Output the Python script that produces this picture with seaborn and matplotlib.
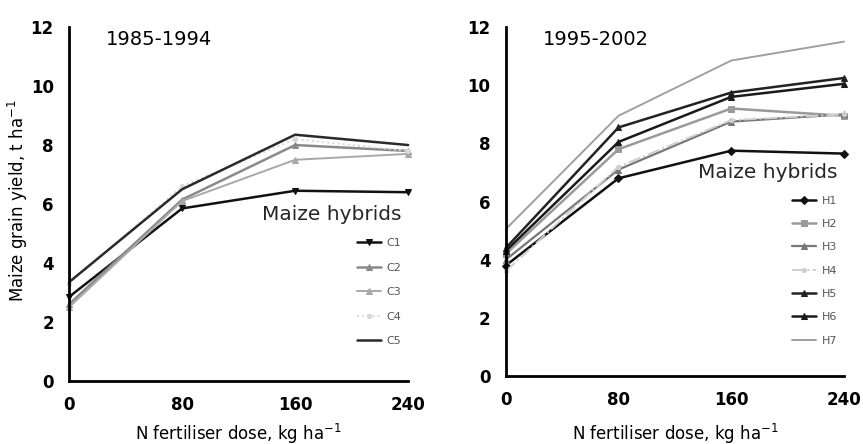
import matplotlib
matplotlib.use("Agg")
import matplotlib.pyplot as plt
import seaborn as sns
import pandas as pd

doses = [0, 80, 160, 240]

# 1985-1994 hybrids
C1 = [2.85, 5.85, 6.45, 6.4]
C2 = [2.6, 6.15, 8.0, 7.8]
C3 = [2.5, 6.1, 7.5, 7.7]
C4 = [3.3, 6.6, 8.2, 7.8]
C5 = [3.35, 6.5, 8.35, 8.0]

# 1995-2002 hybrids
H1 = [3.8, 6.8, 7.75, 7.65]
H2 = [4.2, 7.8, 9.2, 8.95]
H3 = [4.0, 7.1, 8.75, 9.0]
H4 = [3.6, 7.2, 8.8, 9.0]
H5 = [4.4, 8.55, 9.75, 10.25]
H6 = [4.3, 8.05, 9.6, 10.05]
H7 = [5.05, 8.95, 10.85, 11.5]

left_names = ["C1", "C2", "C3", "C4", "C5"]
left_vals = [C1, C2, C3, C4, C5]
right_names = ["H1", "H2", "H3", "H4", "H5", "H6", "H7"]
right_vals = [H1, H2, H3, H4, H5, H6, H7]

left_style = {
    "C1": dict(color="#111111", marker="v", ls="-", lw=1.8, ms=5),
    "C2": dict(color="#8a8a8a", marker="^", ls="-", lw=1.8, ms=5),
    "C3": dict(color="#a8a8a8", marker="^", ls="-", lw=1.4, ms=4),
    "C4": dict(color="#d8d8d8", marker="o", ls=":", lw=1.4, ms=3),
    "C5": dict(color="#2a2a2a", marker="", ls="-", lw=1.8, ms=0),
}
right_style = {
    "H1": dict(color="#111111", marker="D", ls="-", lw=1.8, ms=4),
    "H2": dict(color="#9a9a9a", marker="s", ls="-", lw=1.8, ms=5),
    "H3": dict(color="#777777", marker="^", ls="-", lw=1.6, ms=5),
    "H4": dict(color="#cfcfcf", marker="o", ls="-.", lw=1.4, ms=3),
    "H5": dict(color="#222222", marker="^", ls="-", lw=1.8, ms=5),
    "H6": dict(color="#1a1a1a", marker="^", ls="-", lw=1.8, ms=4),
    "H7": dict(color="#a0a0a0", marker="", ls="-", lw=1.4, ms=0),
}

sns.set_theme(style="white")
plt.rcParams["font.family"] = ["DejaVu Sans"]

fig = plt.figure(figsize=(8.63, 4.44), dpi=100)
axL = fig.add_axes([0.080, 0.142, 0.393, 0.797])
axR = fig.add_axes([0.586, 0.153, 0.392, 0.786])


def draw(ax, names, vals, styles, title, anchor_y, xlab_y, lspace):
    for n, v in zip(names, vals):
        st = styles[n]
        df = pd.DataFrame({"dose": doses, "yield": v})
        sns.lineplot(data=df, x="dose", y="yield", ax=ax, color=st["color"],
                     marker=st["marker"] if st["marker"] else None,
                     markersize=st["ms"], linestyle=st["ls"], linewidth=st["lw"],
                     markeredgecolor=st["color"], label=n)
    ax.set_xlim(0, 240)
    ax.set_ylim(0, 12)
    ax.set_xticks(doses)
    ax.set_yticks([0, 2, 4, 6, 8, 10, 12])
    for s in ["top", "right"]:
        ax.spines[s].set_visible(False)
    for s in ["left", "bottom"]:
        ax.spines[s].set_color("black")
        ax.spines[s].set_linewidth(2)
    ax.tick_params(axis="both", direction="out", length=5, width=1.8,
                   colors="black", labelsize=12, pad=6)
    for lab in ax.get_xticklabels() + ax.get_yticklabels():
        lab.set_fontweight("bold")
    ax.set_xlabel("N fertiliser dose, kg ha$^{-1}$", fontsize=12, color="black")
    ax.xaxis.set_label_coords(0.5, xlab_y)
    ax.set_ylabel("")
    ax.text(0.11, 0.965, title, transform=ax.transAxes, fontsize=14,
            ha="left", va="center", color="black")
    for line in ax.get_lines():
        line.set_clip_on(False)
    leg = ax.legend(loc="lower right", bbox_to_anchor=(1.0, anchor_y), frameon=False,
                    title="Maize hybrids", fontsize=8, labelspacing=lspace,
                    handlelength=2.2, handletextpad=0.5, alignment="right",
                    borderaxespad=0.2)
    leg.get_title().set_fontsize(14.5)
    for t in leg.get_texts():
        t.set_color("#555555")
    return leg


draw(axL, left_names, left_vals, left_style, "1985-1994", 0.08, -0.115, 1.3)
draw(axR, right_names, right_vals, right_style, "1995-2002", 0.068, -0.13, 1.2)
axL.set_ylabel("Maize grain yield, t ha$^{-1}$", fontsize=12, color="black")
axL.yaxis.set_label_coords(-0.115, 0.51)

fig.savefig("out.png", dpi=100)
